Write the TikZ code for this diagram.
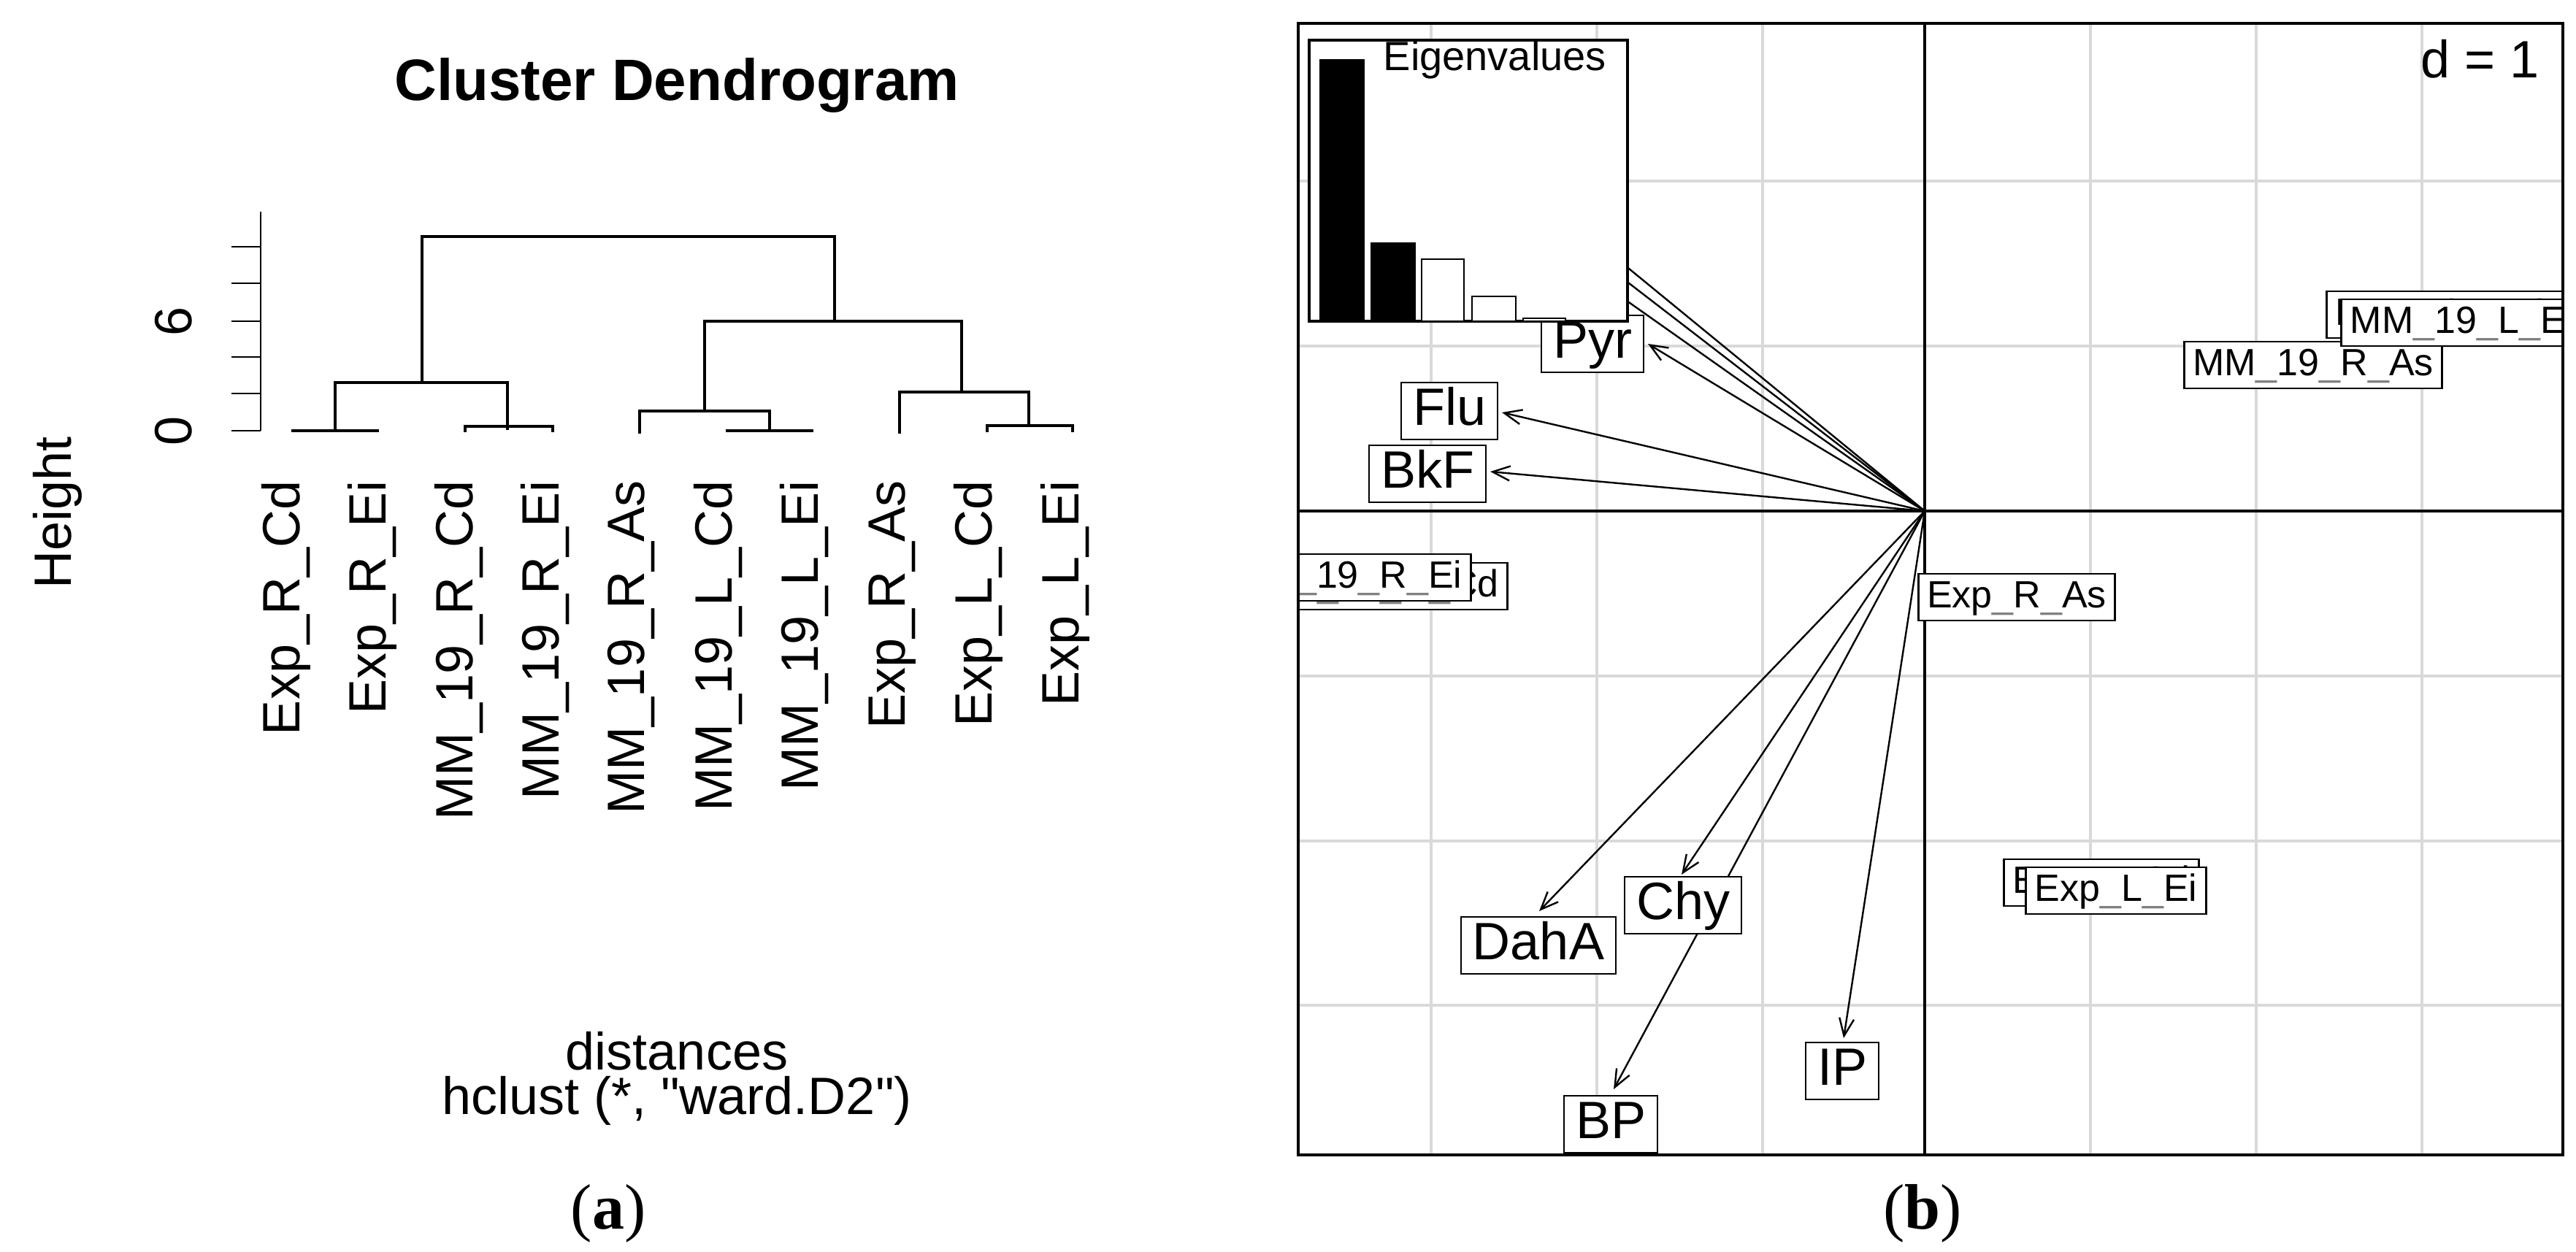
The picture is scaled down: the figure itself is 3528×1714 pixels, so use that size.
\documentclass[tikz,border=0pt]{standalone}
\usepackage{fontspec}
\setmainfont{Liberation Sans}
\newfontfamily\rawsans{Liberation Sans}[Ligatures=ResetAll]
\newfontfamily\serifb{Liberation Serif}
\usetikzlibrary{arrows.meta}
\newcommand{\gus}{\textcolor{gray}{\_}}
\begin{document}
\begin{tikzpicture}[x=0.25pt,y=-0.25pt,
  dl/.style={line width=0.8pt,line cap=rect},
  leaf/.style={rotate=90,anchor=east,inner sep=0pt,font=\fontsize{18}{18}\selectfont},
  big/.style={draw,fill=white,line width=0.7pt,inner xsep=4pt,inner ysep=1.5pt,text height=13pt,text depth=3.5pt,font=\fontsize{18}{18}\selectfont},
  small/.style={draw,fill=white,line width=0.7pt,inner xsep=3pt,inner ysep=2pt,text height=9.5pt,text depth=2.5pt,font=\fontsize{13}{13}\selectfont},
  grid/.style={gray!30,line width=0.8pt},
  arr/.style={line width=0.6pt,-{Straight Barb[length=6pt,width=5pt]}},
  lin/.style={line width=0.6pt}]
\useasboundingbox (0,0) rectangle (3528,1714);
% ---------- panel (a) ----------
\node[font=\bfseries\fontsize{20}{20}\selectfont] (title) at (927,117) {Cluster Dendrogram};
\draw[line width=0.7pt] (357,290) -- (357,590);
\foreach \y in {590,539,489,440,388,338} \draw[line width=0.7pt] (317,\y) -- (357,\y);
\node[rotate=90,font=\fontsize{18}{18}\selectfont] (t0) at (238,590) {0};
\node[rotate=90,font=\fontsize{18}{18}\selectfont] (t6) at (238,440) {6};
\node[rotate=90,font=\fontsize{18}{18}\selectfont] (hl) at (79,702) {Height};
% dendrogram
\draw[dl] (401,590) -- (517,590);
\draw[dl] (637,590) |- (757,584) -- (757,590);
\draw[dl] (459,590) |- (695,524) -- (695,587);
\draw[dl] (578,524) |- (1143,324) -- (1143,440);
\draw[dl] (996,590) -- (1112,590);
\draw[dl] (876,592) |- (1054,563) -- (1054,590);
\draw[dl] (965,563) |- (1317,440) -- (1317,537);
\draw[dl] (1352,590) |- (1469,583) -- (1469,590);
\draw[dl] (1232,592) |- (1409,537) -- (1409,583);
\node[leaf] (l1) at (392,658) {Exp\_R\_Cd};
\node[leaf] (l2) at (510,658) {Exp\_R\_Ei};
\node[leaf] (l3) at (629,658) {MM\_19\_R\_Cd};
\node[leaf] (l4) at (747,658) {MM\_19\_R\_Ei};
\node[leaf] (l5) at (865,658) {MM\_19\_R\_As};
\node[leaf] (l6) at (984,658) {MM\_19\_L\_Cd};
\node[leaf] (l7) at (1102,658) {MM\_19\_L\_Ei};
\node[leaf] (l8) at (1222,658) {Exp\_R\_As};
\node[leaf] (l9) at (1340,658) {Exp\_L\_Cd};
\node[leaf] (l10) at (1459,658) {Exp\_L\_Ei};
\node[font=\fontsize{18}{18}\selectfont] (dist) at (927,1440) {distances};
\node[font=\rawsans\fontsize{18}{18}\selectfont] (hc) at (927,1508) {hclust (*, "ward.D2")};
\node[font=\serifb\fontsize{22}{22}\selectfont] (a) at (833,1662) {(\textbf{a})};
\node[font=\serifb\fontsize{22}{22}\selectfont] (b) at (2633,1662) {(\textbf{b})};
% ---------- panel (b) ----------
\begin{scope}
\clip (1778,32) rectangle (3510,1582);
\foreach \x in {1960,2187,2414,2863,3090,3317} \draw[grid] (\x,32) -- (\x,1582);
\foreach \y in {248,474,926,1152,1377} \draw[grid] (1778,\y) -- (3510,\y);
\draw[line width=0.9pt] (2636,32) -- (2636,1582);
\draw[line width=0.9pt] (1778,700) -- (3510,700);
\coordinate (o) at (2636,700);
\coordinate (pPyr) at (2257,471);
\coordinate (pFlu) at (2057,565);
\coordinate (pBkF) at (2041,646);
\coordinate (pDahA) at (2108,1248);
\coordinate (pChy) at (2303,1198);
\coordinate (pBP) at (2210,1492);
\coordinate (pIP) at (2525,1422);
\coordinate (h1) at (2148,300);
\coordinate (h2) at (2148,324);
\coordinate (h3) at (2150,357);
\draw[lin] (o) -- (h1);
\draw[lin] (o) -- (h2);
\draw[lin] (o) -- (h3);
\draw[arr] (o) -- (pPyr);
\draw[arr] (o) -- (pFlu);
\draw[arr] (o) -- (pBkF);
\draw[arr] (o) -- (pDahA);
\draw[arr] (o) -- (pChy);
\draw[arr] (o) -- (pBP);
\draw[arr] (o) -- (pIP);
% sample labels
\node[small] (mRCd) at (1885,803) {MM\gus19\gus R\gus Cd};
\node[small] (mREi) at (1845,791) {MM\gus19\gus R\gus Ei};
\node[small] (eRAs) at (2762,818) {Exp\gus R\gus As};
\node[small] (eLCd) at (2878,1209) {Exp\gus L\gus Cd};
\node[small] (eLEi) at (2898,1220) {Exp\gus L\gus Ei};
\node[small] (mRAs) at (3168,500) {MM\gus19\gus R\gus As};
\node[small] (mLCd) at (3362,431) {MM\gus19\gus L\gus Cd};
\node[small] (mLEi) at (3372,442) {MM\gus19\gus L\gus Ei};
% variable labels
\node[big] (Pyr) at (2181,471) {Pyr};
\node[big] (Flu) at (1985,563) {Flu};
\node[big] (BkF) at (1955,649) {BkF};
\node[big] (Chy) at (2305,1240) {Chy};
\node[big] (DahA) at (2107,1295) {DahA};
\node[big] (BP) at (2206,1540) {BP};
\node[big] (IP) at (2523,1467) {IP};
% eigenvalue inset
\draw[fill=white,line width=0.8pt] (1793,55) rectangle (2229,440);
\draw[fill=black,line width=0.6pt] (1808,82) rectangle (1868,440);
\draw[fill=black,line width=0.6pt] (1878,333) rectangle (1938,440);
\draw[fill=white,line width=0.6pt] (1947,355) rectangle (2005,440);
\draw[fill=white,line width=0.6pt] (2016,406) rectangle (2076,440);
\draw[fill=white,line width=0.6pt] (2086,436) rectangle (2144,440);
\node[anchor=east,font=\fontsize{14}{14}\selectfont] (eig) at (2214,82) {Eigenvalues};
\node[anchor=east,font=\fontsize{18}{18}\selectfont] (d1) at (3492,81) {d = 1};
\end{scope}
\draw[line width=1.2pt] (1778,32) rectangle (3510,1582);
\end{tikzpicture}
\end{document}
